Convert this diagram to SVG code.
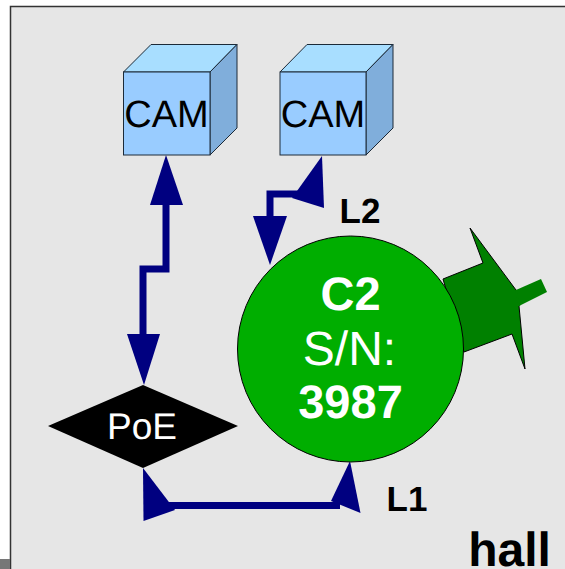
<svg xmlns="http://www.w3.org/2000/svg" width="565" height="569" viewBox="0 0 565 569">
<style>
text{font-family:"Liberation Sans",Arial,sans-serif;text-anchor:middle;text-rendering:geometricPrecision}
.front{fill:#99ccff;stroke:#1c2a38;stroke-width:1}
.top{fill:#a8deff;stroke:#1c2a38;stroke-width:1}
.side{fill:#80aedb;stroke:#1c2a38;stroke-width:1}
.cam{font-size:38px;fill:#000}
.wire{fill:none;stroke:#000080;stroke-width:7;stroke-linejoin:miter}
.head{fill:#000080}
.lbl{font-size:35px;font-weight:bold;fill:#000}
.c2{font-size:47px;fill:#fff}
</style>
<rect width="565" height="569" fill="#fff"/>
<rect x="10" y="6" width="555" height="563" fill="#e6e6e6"/>
<path d="M10.500 569V6.500H565" fill="none" stroke="#333" stroke-width="1.500"/>
<rect x="0" y="559" width="10" height="10" fill="#777"/>
<g id="connectors">
<path class="wire" d="M166 200V269H143V340"/>
<polygon class="head" points="166,155 183,205 150,205"/>
<polygon class="head" points="144,385 127,334 160,334"/>
<path class="wire" d="M305 194H270V222"/>
<polygon class="head" points="322,156 324,208 292,198"/>
<polygon class="head" points="270,265 253,216 287,216"/>
<path class="wire" d="M165 505.500H340"/>
<polygon class="head" points="143,468 143.500,521 175,510"/>
<polygon class="head" points="350,461 360.500,513 331,501"/>
</g>
<g id="cam1">
<polygon class="top" points="123.500,72 151,44.500 237,44.500 210,72"/>
<polygon class="side" points="210,72 237,44.500 237,128 210,155"/>
<rect class="front" x="123.500" y="72" width="86.500" height="83"/>
<text class="cam" x="166.500" y="127">CAM</text>
</g>
<g id="cam2">
<polygon class="top" points="280,72 307,44.500 393,44.500 366,72"/>
<polygon class="side" points="366,72 393,44.500 393,128 366,155"/>
<rect class="front" x="280" y="72" width="86" height="83"/>
<text class="cam" x="323" y="127">CAM</text>
</g>
<g id="poe">
<polygon points="143,385 238,426 143,468 48,426" fill="#000"/>
<text x="142" y="439" font-size="37" fill="#fff">PoE</text>
</g>
<g id="c2">
<polygon points="516,290 541,279 547,292 519,306" fill="#008000"/>
<polygon points="470,228 483,263 443,279 464,352 512,334 525,369 519,306 516,290" fill="#008000" stroke="#000" stroke-width="1"/>
<path d="M516 290L519 306" stroke="#008000" stroke-width="2.500"/>
<circle cx="350.500" cy="349" r="113" fill="#00ae00" stroke="#000" stroke-width="1"/>
<text class="c2" x="350.500" y="310" font-weight="bold">C2</text>
<text class="c2" x="349.500" y="365" style="font-size:48px">S/N:</text>
<text class="c2" x="350.500" y="418" font-weight="bold">3987</text>
</g>
<text class="lbl" x="360" y="223">L2</text>
<text class="lbl" x="407" y="511">L1</text>
<text x="509.500" y="566" font-size="48" font-weight="bold" fill="#000">hall</text>
</svg>
